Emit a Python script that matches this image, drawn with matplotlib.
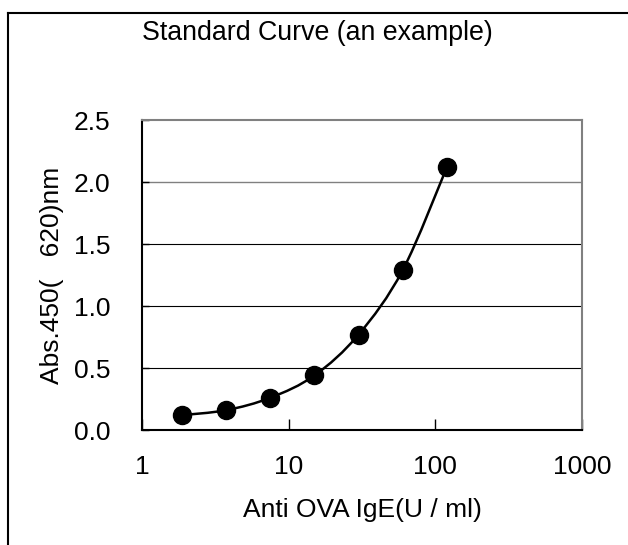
import matplotlib.pyplot as plt
import numpy as np
from matplotlib.path import Path
from matplotlib.patches import PathPatch
from matplotlib.lines import Line2D

plt.rcParams['font.family'] = ['Liberation Sans', 'DejaVu Sans']

# standard curve data
conc = [1.875, 3.75, 7.5, 15, 30, 60, 120]
absorbance = [0.12, 0.16, 0.26, 0.44, 0.77, 1.29, 2.12]
x_ticks = [1, 10, 100, 1000]
x_tick_labels = ['1', '10', '100', '1000']
y_ticks = [0.0, 0.5, 1.0, 1.5, 2.0, 2.5]

fig = plt.figure(figsize=(6.28, 5.45), dpi=100)
ax = fig.add_axes([0.2261, 0.2110, 0.7006, 0.5688])

# outer frame (only top and left edges are inside the picture)
fig.add_artist(Line2D([8 / 628, 1.0], [1 - 13 / 545, 1 - 13 / 545], color='black', lw=1.5))
fig.add_artist(Line2D([8 / 628, 8 / 628], [0.0, 1 - 13 / 545], color='black', lw=1.5))

ax.set_xscale('log')
ax.set_xlim(1, 1000)
ax.set_ylim(0, 2.5)

# gridlines
for v in y_ticks[1:-1]:
    ax.axhline(v, color='#808080' if v == 2.0 else 'black', lw=1.0 if v == 2.0 else 0.8, zorder=1)

# smoothed line (Excel-like), bezier segments built in log-x space
lx = np.log10(conc)
ly = np.array(absorbance)
pts = np.column_stack([lx, ly])
ext = np.vstack([pts[0], pts, pts[-1]])
verts = [pts[0]]
codes = [Path.MOVETO]
for i in range(1, len(ext) - 2):
    p0, p1, p2, p3 = ext[i - 1], ext[i], ext[i + 1], ext[i + 2]
    verts += [p1 + (p2 - p0) / 6, p2 - (p3 - p1) / 6, p2]
    codes += [Path.CURVE4] * 3
verts = np.array(verts)
verts[:, 0] = 10 ** verts[:, 0]
ax.add_patch(PathPatch(Path(verts, codes), fill=False, color='black', lw=1.8, zorder=3,
                       transform=ax.transData))

ax.plot(conc, absorbance, 'o', color='black', markersize=13, zorder=4)

ax.set_xticks(x_ticks)
ax.set_xticklabels(x_tick_labels)
ax.xaxis.set_minor_locator(plt.NullLocator())
ax.set_yticks(y_ticks)
ax.set_yticklabels(['%.1f' % v for v in y_ticks])
ax.tick_params(axis='x', direction='in', length=8, width=1, pad=18, labelsize=19)
ax.tick_params(axis='y', direction='in', length=5, width=1, pad=23, labelsize=19)

ax.spines['left'].set_color('black')
ax.spines['bottom'].set_color('black')
ax.spines['top'].set_color('#808080')
ax.spines['right'].set_color('#808080')
for s in ax.spines.values():
    s.set_linewidth(1.5)

ax.set_xlabel('Anti OVA IgE(U / ml)', fontsize=19)
ax.xaxis.set_label_coords(0.5, -0.258)
ax.xaxis.label.set_va('center')
ax.set_ylabel('Abs.450(   620)nm', fontsize=19)
ax.yaxis.set_label_coords(-0.2045, 0.5)
ax.yaxis.label.set_va('center')

fig.text(0.506, 1 - 33 / 545, 'Standard Curve (an example)', fontsize=19.3, ha='center', va='center')

fig.savefig('out.png', dpi=100)
